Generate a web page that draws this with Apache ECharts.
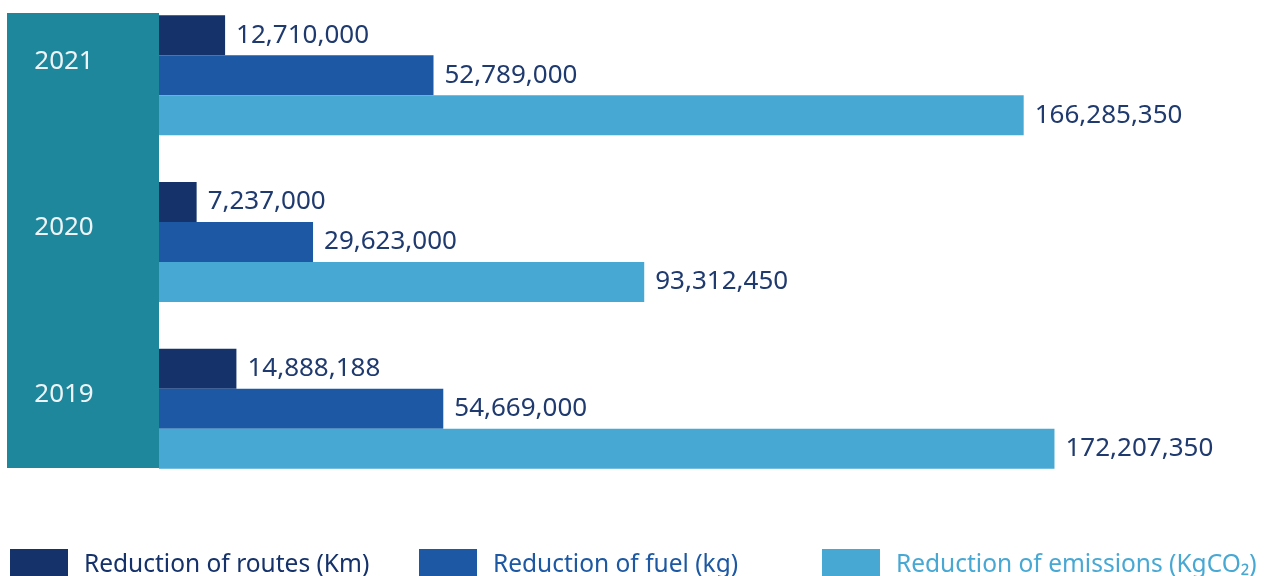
<!DOCTYPE html>
<html>
<head>
<meta charset="utf-8">
<script src="https://cdn.jsdelivr.net/npm/echarts@6/dist/echarts.min.js"></script>
<style>
  html, body { margin: 0; padding: 0; background: #ffffff; }
  #chart { width: 1274px; height: 576px; }
</style>
</head>
<body>
<div id="chart"></div>
<script>
// Years, bottom to top on the category axis
var years = ['2019', '2020', '2021'];
// Series values per year (same order as years)
var routesKm = [14888188, 7237000, 12710000];
var fuelKg = [54669000, 29623000, 52789000];
var emissionsKgCO2 = [172207350, 93312450, 166285350];
var seriesNames = ['Reduction of routes (Km)', 'Reduction of fuel (kg)', 'Reduction of emissions (KgCO\u2082)'];

var colors = ['#15326a', '#1c58a3', '#48a8d4'];
var labelColor = '#1f3a6e';
var FONT = '"Noto Sans", sans-serif';

function fmt(v) {
  return v.toLocaleString('en-US');
}

function barSeries(name, data, color) {
  return {
    name: name,
    type: 'bar',
    xAxisIndex: 0,
    yAxisIndex: 0,
    data: data,
    barWidth: 40,
    barGap: '0%',
    itemStyle: { color: color },
    label: {
      show: true,
      position: 'right',
      distance: 11,
      color: labelColor,
      fontFamily: FONT,
      fontSize: 26,
      formatter: function (p) { return fmt(p.value); }
    },
    emphasis: { disabled: true },
    animation: false
  };
}

function legendFor(name, left, color) {
  return {
    show: true,
    data: [{ name: name, textStyle: { color: color } }],
    left: left,
    top: 549,
    padding: 0,
    itemWidth: 58,
    itemHeight: 32,
    icon: 'rect',
    selectedMode: false,
    textStyle: {
      fontFamily: FONT,
      fontSize: 24.5,
      padding: [0, 0, 0, 11]
    }
  };
}

var chart = echarts.init(document.getElementById('chart'), null, { renderer: 'canvas' });

chart.setOption({
  backgroundColor: '#ffffff',
  animation: false,
  legend: [
    legendFor(seriesNames[0], 10, colors[0]),
    legendFor(seriesNames[1], 419, colors[1]),
    legendFor(seriesNames[2], 822, colors[2])
  ],
  grid: [
    // bars
    { left: 159, top: -8, width: 1040, height: 500, containLabel: false, outerBoundsMode: 'none' },
    // teal year panel behind the category labels
    { left: 7, top: 13, width: 152, height: 455, containLabel: false, outerBoundsMode: 'none' }
  ],
  xAxis: [
    { type: 'value', gridIndex: 0, min: 0, max: 200000000, show: false },
    { type: 'value', gridIndex: 1, min: 0, max: 1, show: false }
  ],
  yAxis: [
    {
      type: 'category',
      gridIndex: 0,
      data: years,
      z: 5,
      axisLine: { show: false },
      axisTick: { show: false },
      splitLine: { show: false },
      axisLabel: {
        color: '#eef4f6',
        fontFamily: FONT,
        fontSize: 26,
        margin: 95,
        align: 'center',
        verticalAlign: 'bottom',
        lineHeight: 28
      }
    },
    {
      type: 'category',
      gridIndex: 1,
      data: years,
      z: 0,
      axisLine: { show: false },
      axisTick: { show: false },
      axisLabel: { show: false },
      splitLine: { show: false },
      splitArea: { show: true, areaStyle: { color: ['#1f879c'] } }
    }
  ],
  series: [
    barSeries(seriesNames[0], routesKm, colors[0]),
    barSeries(seriesNames[1], fuelKg, colors[1]),
    barSeries(seriesNames[2], emissionsKgCO2, colors[2])
  ]
});
</script>
</body>
</html>
